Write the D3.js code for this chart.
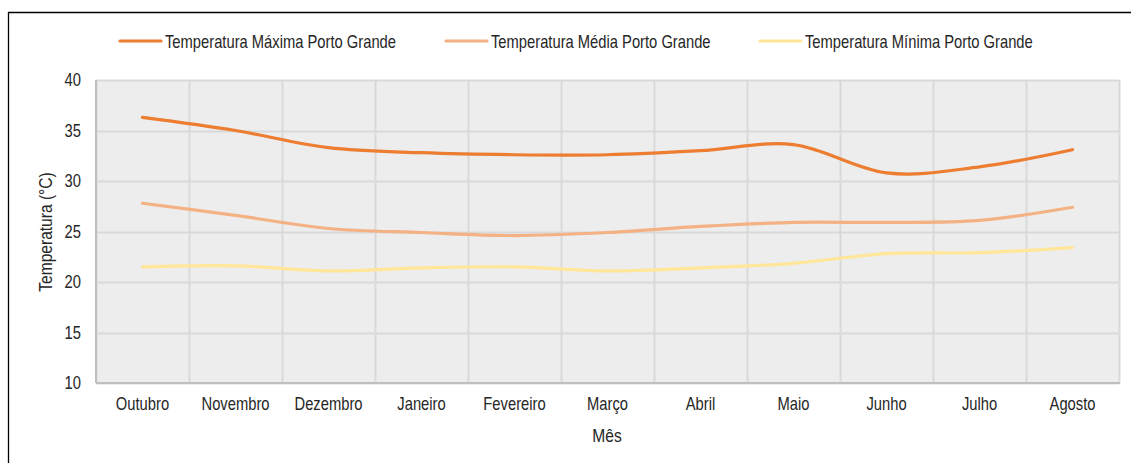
<!DOCTYPE html>
<html>
<head>
<meta charset="utf-8">
<script src="https://cdn.jsdelivr.net/npm/d3@7"></script>
<style>
  html, body { margin: 0; padding: 0; background: #ffffff; }
  svg { display: block; }
  text { font-family: "Liberation Sans", Arial, sans-serif; fill: #262626; }
</style>
</head>
<body>
<svg id="chart" width="1131" height="463"></svg>
<script>
// Monthly temperatures (°C), Porto Grande
const months = ["Outubro", "Novembro", "Dezembro", "Janeiro", "Fevereiro", "Março",
                "Abril", "Maio", "Junho", "Julho", "Agosto"];
const tempMax = [36.3, 35.0, 33.3, 32.8, 32.6, 32.6, 33.0, 33.6, 30.8, 31.4, 33.1];
const tempMed = [27.8, 26.6, 25.3, 24.9, 24.6, 24.9, 25.5, 25.9, 25.9, 26.1, 27.4];
const tempMin = [21.5, 21.6, 21.1, 21.4, 21.5, 21.1, 21.4, 21.85, 22.8, 22.9, 23.4];
const yTicks = [10, 15, 20, 25, 30, 35, 40];

const seriesNames = ["Temperatura Máxima Porto Grande",
                     "Temperatura Média Porto Grande",
                     "Temperatura Mínima Porto Grande"];
const seriesColors = ["#ED7D31", "#F4B183", "#FFE699"];
const seriesValues = [tempMax, tempMed, tempMin];

// narrow type: Liberation Sans squeezed horizontally about the text's anchor x
const NARROW = 0.82;
function narrow(sel) {
  sel.each(function () {
    const t = d3.select(this);
    const ax = +t.attr("x") || 0;
    const prev = t.attr("transform") || "";
    t.attr("transform", `${prev} translate(${ax},0) scale(${NARROW},1) translate(${-ax},0)`);
  });
}

const svg = d3.select("#chart");

// outer frame (top and left edges)
svg.append("line").attr("x1", 8).attr("x2", 1131).attr("y1", 12.5).attr("y2", 12.5)
   .attr("stroke", "#000").attr("stroke-width", 1.3);
svg.append("line").attr("x1", 8.5).attr("x2", 8.5).attr("y1", 12).attr("y2", 463)
   .attr("stroke", "#000").attr("stroke-width", 1.3);

const plot = { left: 96, right: 1119, top: 80, bottom: 383 };

const x = d3.scaleBand().domain(months).range([plot.left, plot.right]).padding(0);
const y = d3.scaleLinear().domain([10, 40]).range([plot.bottom, plot.top]);

// plot background
svg.append("rect")
   .attr("x", plot.left).attr("y", plot.top)
   .attr("width", plot.right - plot.left).attr("height", plot.bottom - plot.top)
   .attr("fill", "#EDEDED");

// horizontal gridlines
svg.append("g").selectAll("line").data(yTicks).join("line")
   .attr("x1", plot.left).attr("x2", plot.right)
   .attr("y1", d => Math.round(y(d)) + 0.5).attr("y2", d => Math.round(y(d)) + 0.5)
   .attr("stroke", "#D9D9D9").attr("stroke-width", 2);

// vertical gridlines between categories
const bounds = months.map(m => x(m)).concat([plot.right]);
svg.append("g").selectAll("line").data(bounds).join("line")
   .attr("x1", d => Math.round(d) + 0.5).attr("x2", d => Math.round(d) + 0.5)
   .attr("y1", plot.top).attr("y2", plot.bottom)
   .attr("stroke", "#D9D9D9").attr("stroke-width", 2);

// axis lines
svg.append("line").attr("x1", plot.left).attr("x2", plot.left)
   .attr("y1", plot.top).attr("y2", plot.bottom).attr("stroke", "#BFBFBF").attr("stroke-width", 2);
svg.append("line").attr("x1", plot.left).attr("x2", plot.right + 1)
   .attr("y1", plot.bottom).attr("y2", plot.bottom).attr("stroke", "#BFBFBF").attr("stroke-width", 2);

// y axis
const yAxis = d3.axisLeft(y).tickValues(yTicks).tickSize(0).tickPadding(15);
const gy = svg.append("g").attr("transform", `translate(${plot.left},0)`).call(yAxis);
gy.select(".domain").remove();
gy.selectAll("text").attr("font-size", 18).attr("font-family", null).style("fill", "#262626").call(narrow);

// x axis
const xAxis = d3.axisBottom(x).tickSize(0).tickPadding(14);
const gx = svg.append("g").attr("transform", `translate(0,${plot.bottom})`).call(xAxis);
gx.select(".domain").remove();
gx.selectAll("text").attr("font-size", 18).attr("font-family", null).style("fill", "#262626").call(narrow);

// axis titles
svg.append("text").attr("x", 607).attr("y", 442).attr("text-anchor", "middle")
   .attr("font-size", 19).text("Mês").call(narrow);
svg.append("g").attr("transform", `translate(52,232) rotate(-90)`)
   .append("text").attr("x", 0).attr("y", 0)
   .attr("text-anchor", "middle").attr("font-size", 19).text("Temperatura (°C)").call(narrow);

// smoothed series lines
const line = d3.line()
   .x((d, i) => x(months[i]) + x.bandwidth() / 2)
   .y(d => y(d))
   .curve(d3.curveCatmullRom.alpha(0));

svg.append("g").selectAll("path").data(seriesValues.slice().reverse()).join("path")
   .attr("d", d => line(d))
   .attr("fill", "none")
   .attr("stroke", (d, i) => seriesColors[seriesColors.length - 1 - i])
   .attr("stroke-width", 3.2)
   .attr("stroke-linecap", "round");

// legend
const legendX = [120, 446, 760];
const lg = svg.append("g").selectAll("g").data(seriesNames).join("g")
   .attr("transform", (d, i) => `translate(${legendX[i]},41)`);
lg.append("line").attr("x1", 0).attr("x2", 41).attr("y1", 0).attr("y2", 0)
   .attr("stroke", (d, i) => seriesColors[i]).attr("stroke-width", 3.2)
   .attr("stroke-linecap", "round");
lg.append("text").attr("x", 45).attr("y", 6.5).attr("font-size", 18).text(d => d).call(narrow);
</script>
</body>
</html>
